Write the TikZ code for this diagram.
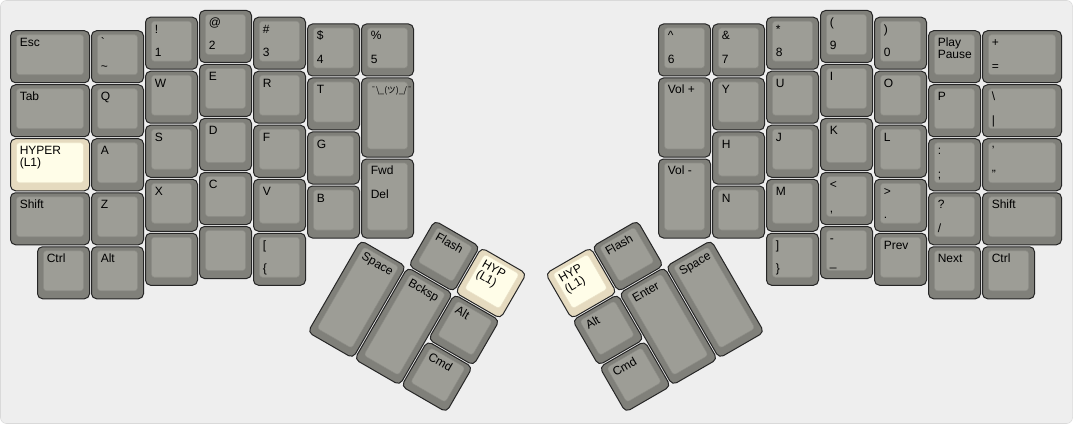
\documentclass[tikz,border=0pt]{standalone}
\usepackage{fontspec}
\setmainfont{Liberation Sans}
\newfontfamily\cjk{Noto Sans CJK JP}
\usetikzlibrary{positioning}

\definecolor{board}{HTML}{EEEEEE}
\definecolor{capdark}{HTML}{80807A}
\definecolor{captop}{HTML}{9D9D96}
\definecolor{capline}{HTML}{8C8C86}
\definecolor{hypdark}{HTML}{E5DABF}
\definecolor{hyptop}{HTML}{FFFDE8}
\definecolor{hypline}{HTML}{EAE2C8}

% one key: [style]{name}{x}{y}{w}{h}{top legend}{bottom legend}, sizes in key units
\newcommand\kkey[8][]{%
  \begin{scope}[#1,shift={(#3*54+9.5,#4*54+9.5)}]
    \draw[capout] (1,1) rectangle (#5*54-1,#6*54-1);
    \draw[capin] (7,5) rectangle (#5*54-7,#6*54-9);
    \if\relax\detokenize{#7}\relax\else\node[legend] (#2) at (10,17) {#7};\fi
    \if\relax\detokenize{#8}\relax\else\node[legend] (#2-b) at (10,40.5) {#8};\fi
  \end{scope}}
% two-line legend, baseline on the first line
\newcommand\twoline[2]{\vtop{\baselineskip=9pt\hbox{#1}\hbox{#2}}}

\begin{document}
\begin{tikzpicture}[x=0.75pt,y=-0.75pt]
\tikzset{
  capout/.style={draw=black!85,fill=capdark,rounded corners=3.75pt,line width=0.75pt},
  capin/.style={draw=capline,fill=captop,rounded corners=2.25pt,line width=0.4pt},
  hypcap/.style={capout/.append style={fill=hypdark},capin/.append style={fill=hyptop,draw=hypline}},
  legend/.style={anchor=base west,inner sep=0pt,font=\fontsize{9}{9}\selectfont}
}
\useasboundingbox (0,0) rectangle (1073,424);
\draw[fill=board,draw=black!15,rounded corners=4.5pt] (0.5,0.5) rectangle (1072.5,423.5);

% left hand
\kkey{esc}{0}{0.375}{1.5}{1}{Esc}{}
\kkey{tab}{0}{1.375}{1.5}{1}{Tab}{}
\kkey[hypcap]{hyper}{0}{2.375}{1.5}{1}{\twoline{HYPER}{(L1)}}{}
\kkey{lshift}{0}{3.375}{1.5}{1}{Shift}{}
\kkey{lctrl}{0.5}{4.375}{1}{1}{Ctrl}{}
\kkey{grave}{1.5}{0.375}{1}{1}{\textasciigrave}{\textasciitilde}
\kkey{q}{1.5}{1.375}{1}{1}{Q}{}
\kkey{a}{1.5}{2.375}{1}{1}{A}{}
\kkey{z}{1.5}{3.375}{1}{1}{Z}{}
\kkey{lalt}{1.5}{4.375}{1}{1}{Alt}{}
\kkey{one}{2.5}{0.125}{1}{1}{!}{1}
\kkey{w}{2.5}{1.125}{1}{1}{W}{}
\kkey{s}{2.5}{2.125}{1}{1}{S}{}
\kkey{x}{2.5}{3.125}{1}{1}{X}{}
\kkey{lblanka}{2.5}{4.125}{1}{1}{}{}
\kkey{two}{3.5}{0}{1}{1}{@}{2}
\kkey{e}{3.5}{1}{1}{1}{E}{}
\kkey{d}{3.5}{2}{1}{1}{D}{}
\kkey{c}{3.5}{3}{1}{1}{C}{}
\kkey{lblankb}{3.5}{4}{1}{1}{}{}
\kkey{three}{4.5}{0.125}{1}{1}{\#}{3}
\kkey{r}{4.5}{1.125}{1}{1}{R}{}
\kkey{f}{4.5}{2.125}{1}{1}{F}{}
\kkey{v}{4.5}{3.125}{1}{1}{V}{}
\kkey{lbrack}{4.5}{4.125}{1}{1}{[}{\{}
\kkey{four}{5.5}{0.25}{1}{1}{\$}{4}
\kkey{t}{5.5}{1.25}{1}{1}{T}{}
\kkey{g}{5.5}{2.25}{1}{1}{G}{}
\kkey{b}{5.5}{3.25}{1}{1}{B}{}
\kkey{five}{6.5}{0.25}{1}{1}{\%}{5}
\kkey{shrug}{6.5}{1.25}{1}{1.5}{{\cjk\fontsize{6.5}{6.5}\selectfont ¯\textbackslash\_(ツ)\_/¯}}{}
\kkey{fwddel}{6.5}{2.75}{1}{1.5}{Fwd}{Del}

% right hand
\kkey{six}{12}{0.25}{1}{1}{\textasciicircum}{6}
\kkey{volup}{12}{1.25}{1}{1.5}{Vol +}{}
\kkey{voldn}{12}{2.75}{1}{1.5}{Vol -}{}
\kkey{seven}{13}{0.25}{1}{1}{\&}{7}
\kkey{y}{13}{1.25}{1}{1}{Y}{}
\kkey{h}{13}{2.25}{1}{1}{H}{}
\kkey{n}{13}{3.25}{1}{1}{N}{}
\kkey{eight}{14}{0.125}{1}{1}{*}{8}
\kkey{u}{14}{1.125}{1}{1}{U}{}
\kkey{j}{14}{2.125}{1}{1}{J}{}
\kkey{m}{14}{3.125}{1}{1}{M}{}
\kkey{rbrack}{14}{4.125}{1}{1}{]}{\}}
\kkey{nine}{15}{0}{1}{1}{(}{9}
\kkey{i}{15}{1}{1}{1}{I}{}
\kkey{k}{15}{2}{1}{1}{K}{}
\kkey{comma}{15}{3}{1}{1}{<}{,}
\kkey{minus}{15}{4}{1}{1}{-}{\_}
\kkey{zero}{16}{0.125}{1}{1}{)}{0}
\kkey{o}{16}{1.125}{1}{1}{O}{}
\kkey{l}{16}{2.125}{1}{1}{L}{}
\kkey{period}{16}{3.125}{1}{1}{>}{.}
\kkey{prev}{16}{4.125}{1}{1}{Prev}{}
\kkey{play}{17}{0.375}{1}{1}{\twoline{Play}{Pause}}{}
\kkey{p}{17}{1.375}{1}{1}{P}{}
\kkey{semi}{17}{2.375}{1}{1}{:}{;}
\kkey{slash}{17}{3.375}{1}{1}{?}{/}
\kkey{next}{17}{4.375}{1}{1}{Next}{}
\kkey{equal}{18}{0.375}{1.5}{1}{+}{=}
\kkey{bslash}{18}{1.375}{1.5}{1}{\textbackslash}{|}
\kkey{quote}{18}{2.375}{1.5}{1}{\char"27}{\char"22}
\kkey{rshift}{18}{3.375}{1.5}{1}{Shift}{}
\kkey{rctrl}{18}{4.375}{1}{1}{Ctrl}{}

% thumb clusters
\begin{scope}[rotate around={-30:(360.5,239)},transform shape]
\kkey{lflash}{7.5}{3.25}{1}{1}{Flash}{}
\kkey[hypcap]{lhyp}{8.5}{3.25}{1}{1}{\twoline{HYP}{(L1)}}{}
\kkey{lspace}{6.5}{4.25}{1}{2}{Space}{}
\kkey{bcksp}{7.5}{4.25}{1}{2}{Bcksp}{}
\kkey{ltalt}{8.5}{4.25}{1}{1}{Alt}{}
\kkey{lcmd}{8.5}{5.25}{1}{1}{Cmd}{}
\end{scope}
\begin{scope}[rotate around={30:(711.5,239)},transform shape]
\kkey[hypcap]{rhyp}{10}{3.25}{1}{1}{\twoline{HYP}{(L1)}}{}
\kkey{rflash}{11}{3.25}{1}{1}{Flash}{}
\kkey{rtalt}{10}{4.25}{1}{1}{Alt}{}
\kkey{enter}{11}{4.25}{1}{2}{Enter}{}
\kkey{rspace}{12}{4.25}{1}{2}{Space}{}
\kkey{rcmd}{10}{5.25}{1}{1}{Cmd}{}
\end{scope}
\end{tikzpicture}
\end{document}
